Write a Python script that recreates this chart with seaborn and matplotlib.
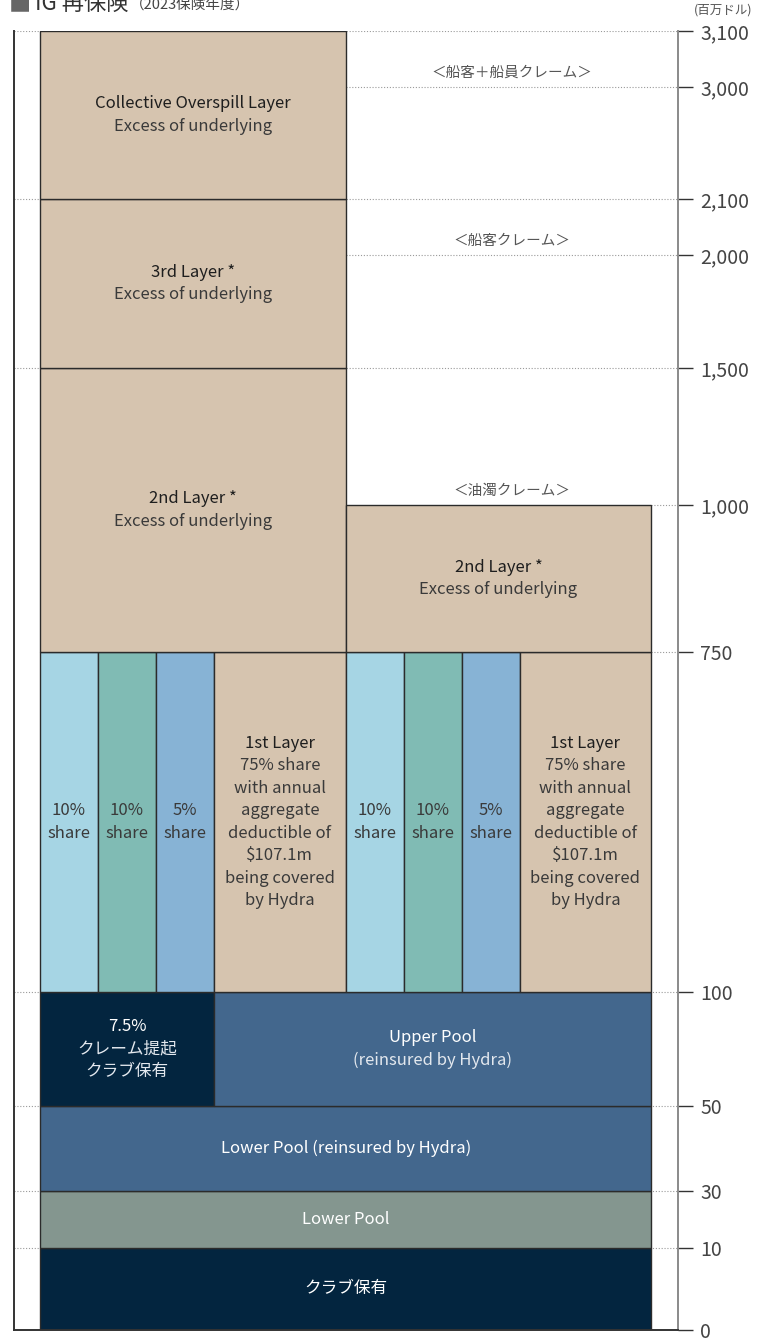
import numpy as np
import matplotlib
matplotlib.use("Agg")
import matplotlib.pyplot as plt
import seaborn as sns

# Axis: limits in million USD, drawn on a broken (piecewise) scale
tick_values = [0, 10, 30, 50, 100, 750, 1000, 1500, 2000, 2100, 3000, 3100]
tick_labels = ["0", "10", "30", "50", "100", "750", "1,000", "1,500",
               "2,000", "2,100", "3,000", "3,100"]
tick_heights = [0, 82, 139, 224, 338, 678, 825, 962, 1075, 1131, 1243, 1299]

# Layers of the programme
layer_bottom = [0, 10, 30, 50, 50,
                100, 100, 100, 100,
                100, 100, 100, 100,
                750, 750, 1500, 2100]
layer_top = [10, 30, 50, 100, 100,
             750, 750, 750, 750,
             750, 750, 750, 750,
             1500, 1000, 2100, 3100]
layer_titles = ["クラブ保有", "Lower Pool", "Lower Pool (reinsured by Hydra)", "7.5%", "Upper Pool",
                "", "", "", "1st Layer",
                "", "", "", "1st Layer",
                "2nd Layer *", "2nd Layer *", "3rd Layer *", "Collective Overspill Layer"]
first_layer_text = ("75% share\nwith annual\naggregate\ndeductible of\n\\$107.1m\n"
                    "being covered\nby Hydra")
layer_bodies = ["", "", "", "クレーム提起\nクラブ保有", "(reinsured by Hydra)",
                "10%\nshare", "10%\nshare", "5%\nshare", first_layer_text,
                "10%\nshare", "10%\nshare", "5%\nshare", first_layer_text,
                "Excess of underlying", "Excess of underlying",
                "Excess of underlying", "Excess of underlying"]

claim_labels = ["＜船客＋船員クレーム＞", "＜船客クレーム＞", "＜油濁クレーム＞"]
claim_limits = [3000, 2000, 1000]

# Layout (x in "share column" units) and styling
W = 5.27  # width of one claim column
layer_x0 = [0, 0, 0, 0, 3,
            0, 1, 2, 3,
            W, W + 1, W + 2, W + 3,
            0, W, 0, 0]
layer_x1 = [2 * W, 2 * W, 2 * W, 3, 2 * W,
            1, 2, 3, W,
            W + 1, W + 2, W + 3, 2 * W,
            W, 2 * W, W, W]
tan, navy, slate, sage = "#d6c4af", "#03253f", "#43678d", "#84968f"
c1, c2, c3 = "#a6d5e4", "#80bbb4", "#87b3d5"
layer_colors = [navy, sage, slate, navy, slate,
                c1, c2, c3, tan,
                c1, c2, c3, tan,
                tan, tan, tan, tan]

sns.set_theme(style="white")
plt.rcParams["font.family"] = ["Noto Sans CJK JP", "DejaVu Sans"]


def fwd(v):
    return np.interp(v, tick_values, tick_heights)


def inv(p):
    return np.interp(p, tick_heights, tick_values)


fig = plt.figure(figsize=(7.67, 13.38), dpi=100)
ax = fig.add_axes([14 / 767, 8 / 1338, 664 / 767, 1299 / 1338])
ax.set_yscale("function", functions=(fwd, inv))
xmin, xmax = -0.448, 11.0
ax.set_xlim(xmin, xmax)
ax.set_ylim(0, 3100)

# dotted guide lines
dot = dict(color="#9a9a9a", linestyle=(0, (1, 1.6)), linewidth=0.8, zorder=1)
ax.hlines([3100, 2100, 1500, 100, 50, 30, 10], xmin, xmax, **dot)
ax.hlines([3000, 2000], W, xmax, **dot)
ax.hlines([1000, 750], 2 * W, xmax, **dot)

# layers
for b, t, x0, x1, col in zip(layer_bottom, layer_top, layer_x0, layer_x1, layer_colors):
    ax.bar(x0, t - b, width=x1 - x0, bottom=b, align="edge", color=col,
           edgecolor="#2b2b2b", linewidth=1.0, zorder=2)

# labels inside layers
line_pt = 16.2
for b, t, x0, x1, col, title, body in zip(layer_bottom, layer_top, layer_x0, layer_x1,
                                          layer_colors, layer_titles, layer_bodies):
    dark = col in (navy, slate, sage)
    lines = []
    if title:
        lines.append((title, "white" if dark else "#1e1e1e"))
    if body:
        for ln in body.split("\n"):
            lines.append((ln, "#e3e8ee" if dark else "#3a3a3a"))
    ymid = inv((fwd(b) + fwd(t)) / 2)
    xmid = (x0 + x1) / 2
    n = len(lines)
    for i, (txt, c) in enumerate(lines):
        ax.annotate(txt, (xmid, ymid), xytext=(0, ((n - 1) / 2 - i) * line_pt),
                    textcoords="offset points", ha="center", va="center",
                    fontsize=12, color=c, zorder=3)

# claim type captions
for lab, lim in zip(claim_labels, claim_limits):
    ax.annotate(lab, ((W + xmax) / 2, lim), xytext=(0, 10), textcoords="offset points",
                ha="center", va="center", fontsize=10.5, color="#555555")

# axes styling
ax.set_yticks(tick_values)
ax.set_yticklabels(tick_labels)
ax.yaxis.tick_right()
ax.tick_params(axis="y", which="both", direction="out", length=11, width=1.0,
               color="#333333", labelsize=14, labelcolor="#444444", pad=5, right=True, left=False)
ax.tick_params(axis="y", which="minor", length=0)
ax.set_xticks([])
ax.spines["top"].set_visible(False)
ax.spines["left"].set_color("#333333")
ax.spines["left"].set_linewidth(1.4)
ax.spines["bottom"].set_color("#333333")
ax.spines["bottom"].set_linewidth(1.4)
ax.spines["right"].set_color("#8a8a8a")
ax.spines["right"].set_linewidth(1.4)
ax.grid(False)

# title (partly cut off at the top, as in the source) and unit
fig.text(9 / 767, 1 - 10 / 1338, "■", fontsize=16, color="#666666", va="baseline")
fig.text(35 / 767, 1 - 10 / 1338, "IG 再保険", fontsize=16, color="#333333", va="baseline")
fig.text(130 / 767, 1 - 10 / 1338, "（2023保険年度）", fontsize=10.5, color="#444444",
         va="baseline")
fig.text(752 / 767, 1 - 10 / 1338, "(百万ドル)", fontsize=9, color="#555555",
         ha="right", va="center")

fig.savefig("out.png", dpi=100)
